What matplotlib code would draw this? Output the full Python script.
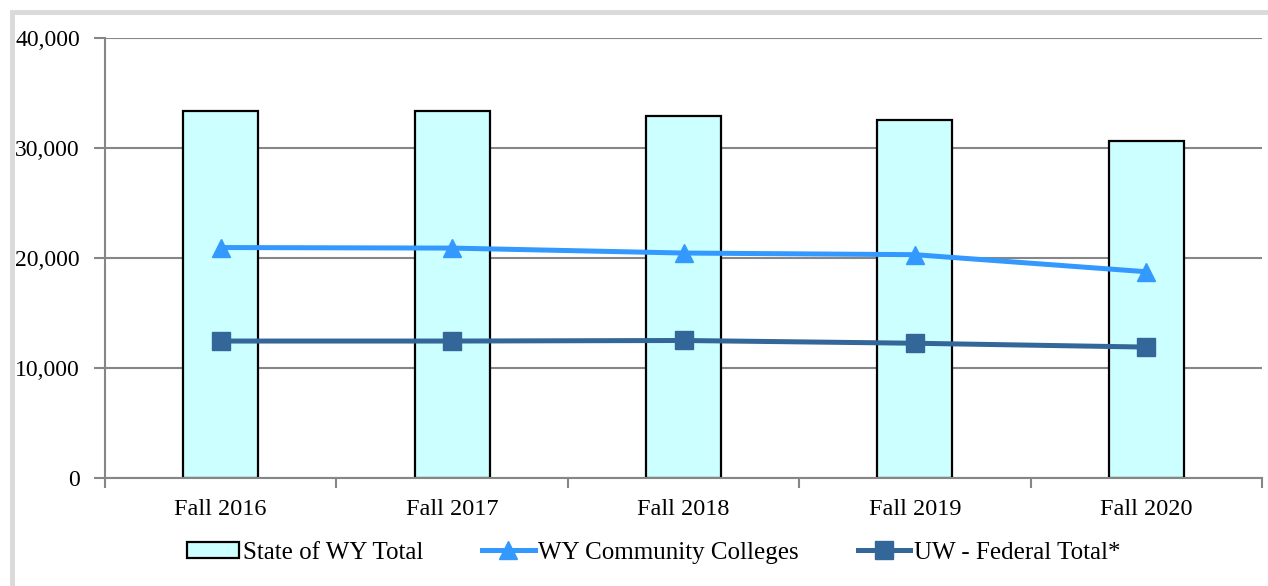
import numpy as np
import matplotlib.pyplot as plt
from matplotlib.patches import Rectangle
from matplotlib.ticker import FuncFormatter

plt.rcParams['font.family'] = ['Liberation Serif', 'DejaVu Serif']

years = ['Fall 2016', 'Fall 2017', 'Fall 2018', 'Fall 2019', 'Fall 2020']
state_total = [33350, 33350, 32900, 32550, 30650]
community_colleges = [20950, 20900, 20450, 20300, 18750]
uw_federal = [12450, 12450, 12500, 12250, 11900]

grey = '#868686'
fig = plt.figure(figsize=(12.68, 5.86), dpi=100)
ax = fig.add_axes([0.0828, 0.1843, 0.9125, 0.7509])

x = np.arange(len(years))
bars = ax.bar(x, state_total, width=0.324, color='#CCFFFF', edgecolor='black',
              linewidth=1.6, label='State of WY Total', zorder=2)
l1, = ax.plot(x, community_colleges, color='#3399FF', lw=3.6, marker='^', ms=13,
              label='WY Community Colleges', zorder=3)
l2, = ax.plot(x, uw_federal, color='#336699', lw=3.6, marker='s', ms=13,
              label='UW - Federal Total*', zorder=3)

ax.set_xlim(-0.5, len(years) - 0.5)
ax.set_ylim(0, 40000)
ax.set_yticks(range(0, 40001, 10000))
ax.yaxis.set_major_formatter(FuncFormatter(lambda v, p: f'{int(v):,}'))
ax.set_xticks(x)
ax.set_xticklabels(years)
ax.set_xticks(np.arange(-0.5, len(years)), minor=True)
ax.tick_params(axis='x', which='major', length=0, pad=15, labelsize=17.5)
ax.tick_params(axis='x', which='minor', length=7, color=grey, width=1.5)
ax.tick_params(axis='y', length=8, color=grey, width=1.5, labelsize=17, pad=10)
ax.grid(axis='y', color=grey, lw=1.5, zorder=0)
for s in ['top', 'right']:
    ax.spines[s].set_visible(False)
for s in ['left', 'bottom']:
    ax.spines[s].set_color(grey)
    ax.spines[s].set_linewidth(1.5)

fig.legend(handles=[bars, l1, l2], loc='center', bbox_to_anchor=(0.5154, 0.057),
           ncol=3, frameon=False, fontsize=18, handlelength=2.1, handleheight=0.6,
           handletextpad=0.15, columnspacing=2.35, borderpad=0)

fig.patches.append(Rectangle((12, -20), 1300, 594, transform=None, fill=False,
                             edgecolor='#DADADA', lw=3.5))

fig.savefig('out.png', dpi=100)
